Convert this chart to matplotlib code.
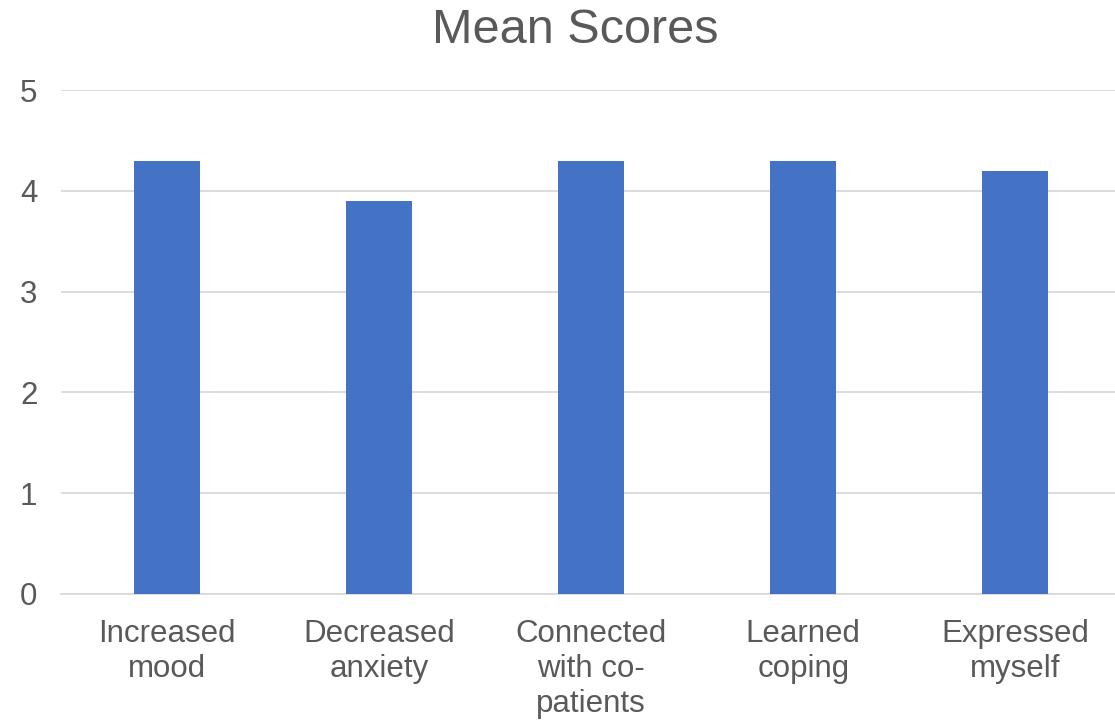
import matplotlib.pyplot as plt

categories = ["Increased\nmood", "Decreased\nanxiety", "Connected\nwith co-\npatients",
              "Learned\ncoping", "Expressed\nmyself"]
scores = [4.3, 3.9, 4.3, 4.3, 4.2]
yticks = [0, 1, 2, 3, 4, 5]

plt.rcParams["font.family"] = ["Liberation Sans", "DejaVu Sans"]
text_color = "#595959"

fig = plt.figure(figsize=(11.15, 7.22), dpi=100)
ax = fig.add_axes([0.0547, 0.1773, 0.9453, 0.698])

x = range(len(categories))
ax.bar(x, scores, width=0.31, color="#4472C4", zorder=3)

ax.set_xlim(-0.5, 4.47)
ax.set_ylim(0, 5)
ax.set_yticks(yticks)
ax.set_xticks(list(x))
ax.set_xticklabels(categories, linespacing=1.22)
ax.tick_params(axis="both", length=0, labelsize=22.5, colors=text_color)
ax.tick_params(axis="x", pad=18)
ax.tick_params(axis="y", pad=17)
ax.grid(axis="y", color="#D9D9D9", linewidth=1.3, zorder=0)

for side in ["top", "right", "left"]:
    ax.spines[side].set_visible(False)
ax.spines["bottom"].set_color("#D9D9D9")
ax.spines["bottom"].set_linewidth(1.3)

fig.text(0.516, 0.958, "Mean Scores", ha="center", va="center",
         fontsize=35, color=text_color)

fig.savefig("out.png", dpi=100)
